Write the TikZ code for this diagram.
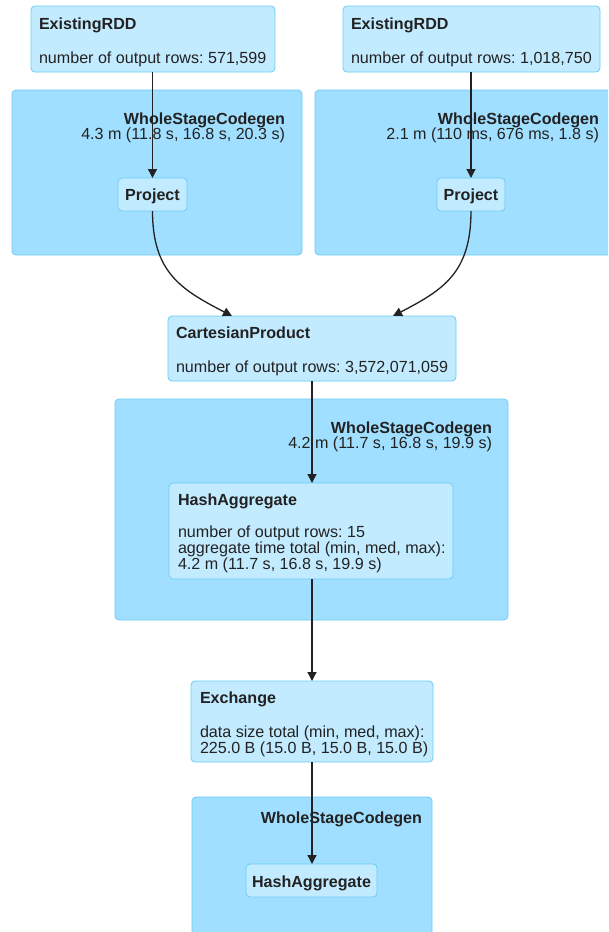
\documentclass[tikz,border=0pt]{standalone}
\usepackage{fontspec}
\setmainfont{Liberation Sans}
\usetikzlibrary{arrows.meta}
\frenchspacing
\definecolor{clusterfill}{HTML}{A0DFFF}
\definecolor{nodefill}{HTML}{C3EBFF}
\definecolor{edgeblue}{HTML}{6ACDF5}
\definecolor{ink}{HTML}{222222}
\tikzset{
  cluster/.style={draw=edgeblue, fill=clusterfill, rounded corners=4pt, line width=0.8pt, inner sep=0, outer sep=0, anchor=north west},
  opbox/.style={draw=edgeblue, fill=nodefill, rounded corners=4pt, line width=0.8pt, inner sep=0, outer sep=0, anchor=north west},
  txt/.style={inner sep=0, outer sep=0, anchor=base west, text=ink, font=\fontsize{16.1}{16}\selectfont},
  ttl/.style={txt, font=\fontsize{16.1}{16}\selectfont\bfseries},
  rtxt/.style={txt, anchor=base east},
  rttl/.style={ttl, anchor=base east},
  ctl/.style={ttl, anchor=base},
  flow/.style={draw=ink, line width=1.3pt, -{Triangle[width=9pt,length=9pt]}},
}
\begin{document}
\begin{tikzpicture}[x=1pt,y=-1pt]
\useasboundingbox (0,0) rectangle (608,932);
\clip (0,0) rectangle (608,932);
\fill[white] (0,0) rectangle (608,932);
% clusters
\node[cluster, minimum width=290, minimum height=165] (wscg1) at (12,90) {};
\node[cluster, minimum width=310, minimum height=165] (wscg2) at (315,90) {};
\node[cluster, minimum width=393, minimum height=221] (wscg3) at (115,399) {};
\node[cluster, minimum width=240, minimum height=160] (wscg4) at (192,797) {};
% operator boxes
\node[opbox, minimum width=244, minimum height=66] (erdd1) at (31,6) {};
\node[opbox, minimum width=257, minimum height=66] (erdd2) at (343,6) {};
\node[opbox, minimum width=69, minimum height=33] (proj1) at (118,178) {};
\node[opbox, minimum width=68, minimum height=33] (proj2) at (437,178) {};
\node[opbox, minimum width=288, minimum height=65] (cart) at (168,316) {};
\node[opbox, minimum width=284, minimum height=96] (hash1) at (169,483) {};
\node[opbox, minimum width=242, minimum height=81] (exch) at (191,681) {};
\node[opbox, minimum width=131, minimum height=33] (hash2) at (246,864) {};
% texts
\node[ttl] (t1) at (39,29) {ExistingRDD};
\node[txt] (t2) at (39,63) {number of output rows: 571,599};
\node[ttl] (t3) at (351,29) {ExistingRDD};
\node[txt] (t4) at (351,63) {number of output rows: 1,018,750};
\node[rttl] (t5) at (285,124) {WholeStageCodegen};
\node[rtxt] (t6) at (285,139) {4.3 m (11.8 s, 16.8 s, 20.3 s)};
\node[rttl] (t7) at (599,124) {WholeStageCodegen};
\node[rtxt] (t8) at (599,139) {2.1 m (110 ms, 676 ms, 1.8 s)};
\node[ctl] (t9) at (152.5,200) {Project};
\node[ctl] (t10) at (471,200) {Project};
\node[ttl] (t11) at (176,338) {CartesianProduct};
\node[txt] (t12) at (176,372) {number of output rows: 3,572,071,059};
\node[rttl] (t13) at (492,433) {WholeStageCodegen};
\node[rtxt] (t14) at (492,448) {4.2 m (11.7 s, 16.8 s, 19.9 s)};
\node[ttl] (t15) at (178,505) {HashAggregate};
\node[txt] (t16) at (178,537) {number of output rows: 15};
\node[txt] (t17) at (178,553) {aggregate time total (min, med, max):};
\node[txt] (t18) at (178,569) {4.2 m (11.7 s, 16.8 s, 19.9 s)};
\node[ttl] (t19) at (200,703) {Exchange};
\node[txt] (t20) at (200,737) {data size total (min, med, max):};
\node[txt] (t21) at (200,753) {225.0 B (15.0 B, 15.0 B, 15.0 B)};
\node[rttl] (t22) at (422,823) {WholeStageCodegen};
\node[ctl] (t23) at (311.5,887) {HashAggregate};
% connectors
\draw[flow] (proj1 |- erdd1.south) -- (proj1.north);
\draw[flow] (proj2 |- erdd2.south) -- (proj2.north);
\draw[flow] (proj1.south) .. controls +(0,62) and +(-50,-26) .. ([xshift=-80pt]cart.north);
\draw[flow] (proj2.south) .. controls +(0,62) and +(50,-26) .. ([xshift=81pt]cart.north);
\draw[flow] (cart.south) -- (cart.south |- hash1.north);
\draw[flow] (exch |- hash1.south) -- (exch.north);
\draw[flow] (exch.south) -- (exch.south |- hash2.north);
\end{tikzpicture}
\end{document}
